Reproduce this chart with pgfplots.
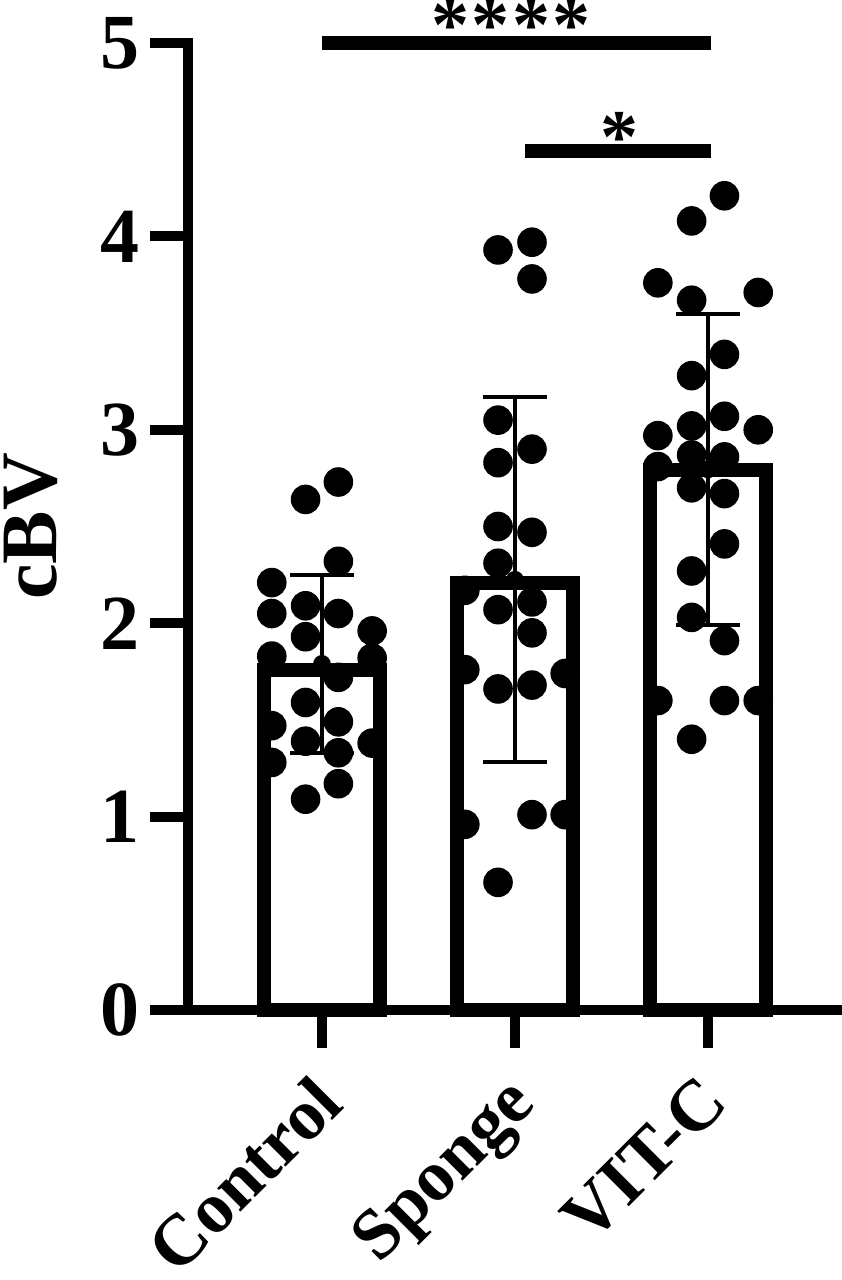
\documentclass[border=0pt]{standalone}
\usepackage{fontspec}
\setmainfont{Liberation Serif}
\usepackage{pgfplots}
\pgfplotsset{compat=1.18}
\begin{document}
\begin{tikzpicture}
\begin{axis}[
  name=ax,
  scale only axis,
  width=163.5pt, height=241.75pt,
  xmin=-0.694, xmax=2.694,
  ymin=0, ymax=5,
  clip=false,
  axis x line=bottom, axis y line=left,
  axis line style={line width=2.5pt, -, line cap=rect},
  every tick/.style={line width=2.5pt, black},
  tick align=outside,
  major tick length=9.5pt,
  xtick={0,1,2},
  xticklabels={Control,Sponge,VIT-C},
  ytick={0,1,2,3,4,5},
  /pgf/number format/assume math mode=true,
  ticklabel style={font=\bfseries\fontsize{18}{18}\selectfont},
  yticklabel style={font=\bfseries\fontsize{19.5}{19.5}\selectfont, xshift=1pt},
  xticklabel style={xshift=-2.8pt, yshift=-1.0pt, rotate=45, anchor=north east},
  ylabel={cBV},
  ylabel style={font=\bfseries\fontsize{20}{20}\selectfont, yshift=4pt},
]
% bars (means)
\addplot[ybar, bar width=0.6, fill=white, draw=black, line width=3.5pt]
  coordinates {(0,1.76) (1,2.21) (2,2.79)};
% individual points
\addplot[only marks, mark=*, mark size=3.5pt, black]
  coordinates {
  (-0.26,2.21) (-0.26,2.05) (-0.26,1.83) (-0.26,1.47) (-0.26,1.28)
  (-0.085,2.64) (-0.085,2.09) (-0.085,1.93) (-0.085,1.59) (-0.085,1.39) (-0.085,1.09)
  (0.085,2.73) (0.085,2.32) (0.085,2.05) (0.085,1.72) (0.085,1.49) (0.085,1.33) (0.085,1.17)
  (0.26,1.96) (0.26,1.82) (0.26,1.38)
  };
\addplot[only marks, mark=*, mark size=3.5pt, black]
  coordinates {
  (0.74,2.17) (0.74,1.76) (0.74,0.96)
  (0.912,3.93) (0.912,3.05) (0.912,2.83) (0.912,2.50) (0.912,2.31) (0.912,2.07) (0.912,1.66) (0.912,0.66)
  (1.088,3.97) (1.088,3.78) (1.088,2.90) (1.088,2.47) (1.088,2.11) (1.088,1.95) (1.088,1.68) (1.088,1.01)
  (1.26,1.74) (1.26,1.01)
  };
\addplot[only marks, mark=*, mark size=3.5pt, black]
  coordinates {
  (1.74,3.76) (1.74,2.97) (1.74,2.81) (1.74,1.60)
  (1.915,4.08) (1.915,3.67) (1.915,3.28) (1.915,3.02) (1.915,2.87) (1.915,2.70) (1.915,2.27) (1.915,2.03) (1.915,1.40)
  (2.085,4.21) (2.085,3.39) (2.085,3.07) (2.085,2.86) (2.085,2.67) (2.085,2.41) (2.085,1.91) (2.085,1.60)
  (2.26,3.71) (2.26,3.00) (2.26,1.60)
  };
% error bars (SD)
\addplot[only marks, mark=none, black,
  error bars/.cd, y dir=both, y explicit,
  error bar style={line width=1pt, black},
  error mark options={mark size=7.9pt, line width=1pt, rotate=90, black}]
  coordinates {
  (0,1.79) += (0,0.46) -= (0,0.46)
  (1,2.225) += (0,0.945) -= (0,0.945)
  (2,2.795) += (0,0.805) -= (0,0.805)
  };
% significance bars
\addplot[black, line width=3.5pt, mark=none] coordinates {(0,5.0) (2.015,5.0)};
\addplot[black, line width=3.5pt, mark=none] coordinates {(1.05,4.44) (2.015,4.44)};
\node[font=\bfseries\fontsize{19}{19}\selectfont, anchor=south, inner sep=0pt] at (axis cs:0.98,4.955) {*\kern0.6pt*\kern0.6pt*\kern0.6pt*};
\node[font=\bfseries\fontsize{19}{19}\selectfont, anchor=south, inner sep=0pt] at (axis cs:1.54,4.38) {*};
\end{axis}
\pgfresetboundingbox
\path (ax.south west) ++(-47pt,-67.5pt) rectangle ++(210.5pt,320pt);
\end{tikzpicture}
\end{document}
